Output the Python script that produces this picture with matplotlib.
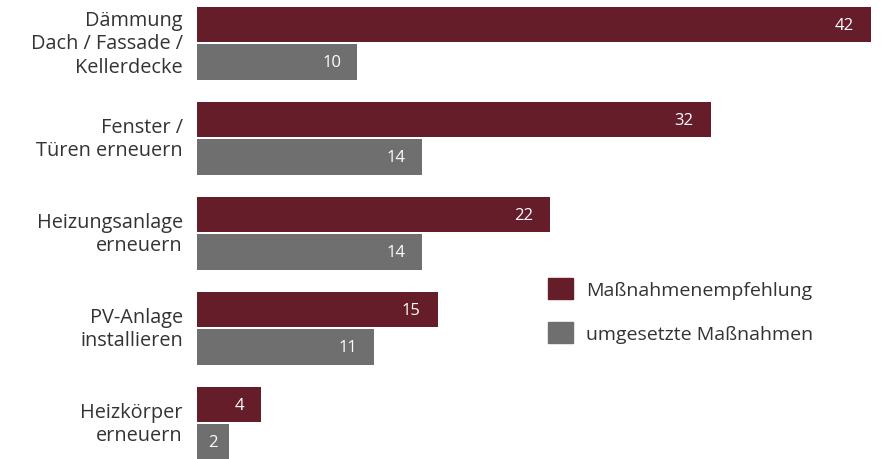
import numpy as np
import matplotlib
matplotlib.use('Agg')
import matplotlib.pyplot as plt
from matplotlib.patches import Patch

categories = ['Dämmung\nDach / Fassade /\nKellerdecke',
              'Fenster /\nTüren erneuern',
              'Heizungsanlage\nerneuern',
              'PV-Anlage\ninstallieren',
              'Heizkörper\nerneuern']
empfohlen = [42, 32, 22, 15, 4]
umgesetzt = [10, 14, 14, 11, 2]
series_names = ['Maßnahmenempfehlung', 'umgesetzte Maßnahmen']

RED = '#651d2a'
GRAY = '#706f6f'
TEXT = '#333333'

plt.rcParams['font.family'] = ['Open Sans', 'DejaVu Sans']

W, H = 887, 460
fig = plt.figure(figsize=(W / 100, H / 100), dpi=100)
ax = fig.add_axes([197 / W, 0, (871 - 197) / W, 1])

y = np.arange(len(categories))
off = 0.197
h = 0.37
ax.barh(y - off, empfohlen, height=h, color=RED)
ax.barh(y + off, umgesetzt, height=h, color=GRAY)

ax.set_xlim(0, 42)
ax.set_ylim(4.376, -0.466)
ax.axis('off')

for i, (a, b) in enumerate(zip(empfohlen, umgesetzt)):
    ax.annotate(str(a), (a, i - off), xytext=(-17, 0), textcoords='offset pixels',
                ha='right', va='center', color='white', fontsize=12)
    ax.annotate(str(b), (b, i + off), xytext=(-11 if b < 4 else -16, 0),
                textcoords='offset pixels',
                ha='right', va='center', color='white', fontsize=12)
    ax.annotate(categories[i], (0, i), xytext=(-14, 0), textcoords='offset pixels',
                ha='right', va='center', color=TEXT, fontsize=14.3, linespacing=1.22)

handles = [Patch(color=RED), Patch(color=GRAY)]
ax.legend(handles, series_names, loc='upper left',
          bbox_to_anchor=(548 / W, 1 - 279 / H), bbox_transform=fig.transFigure,
          frameon=False, borderpad=0, borderaxespad=0, fontsize=14,
          handlelength=1.3, handleheight=1.3, handletextpad=0.65,
          labelspacing=1.15, labelcolor=TEXT)

fig.savefig('out.png', dpi=100)
